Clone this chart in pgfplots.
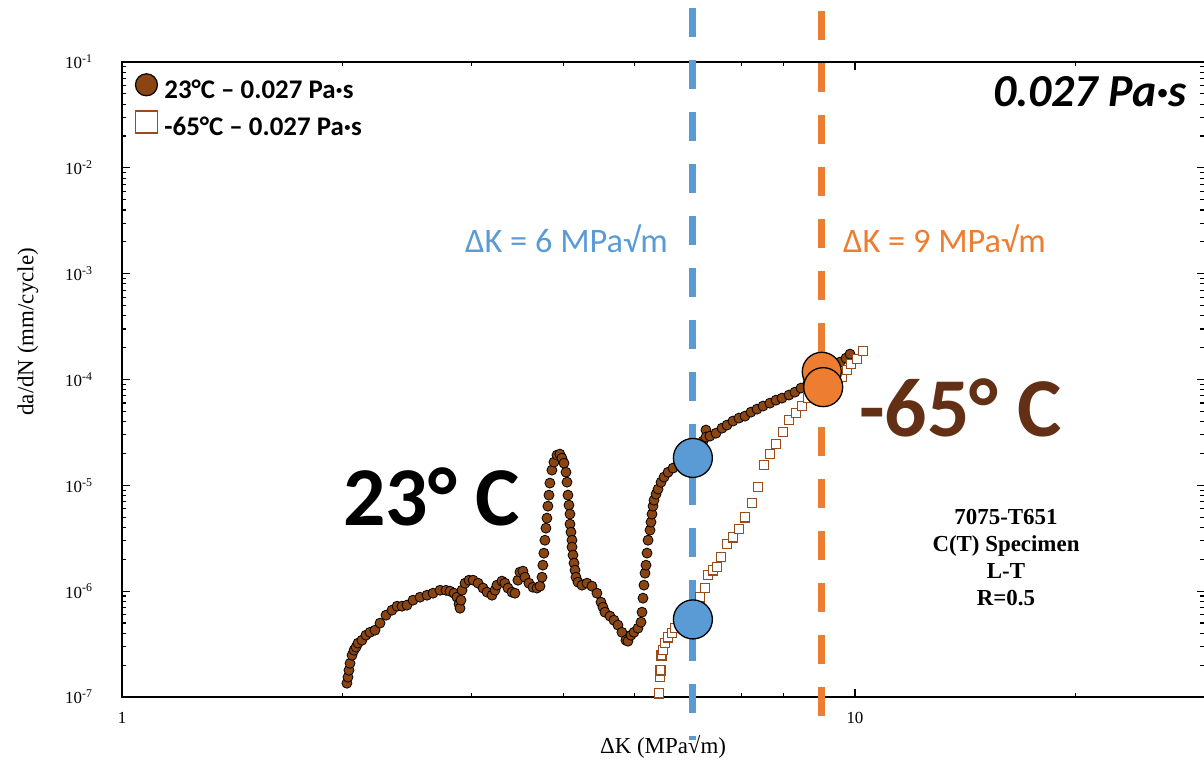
\documentclass[border=0pt]{standalone}
\usepackage{pgfplots}
\pgfplotsset{compat=1.18}
\usepackage{fontspec}
\setmainfont{Liberation Serif}
\newfontfamily\calibri{Carlito}
\definecolor{brownA}{RGB}{139,69,19}
\definecolor{brownSq}{RGB}{153,76,26}
\definecolor{blueL}{RGB}{91,155,213}
\definecolor{orangeL}{RGB}{237,125,49}
\definecolor{darkbrown}{RGB}{99,48,22}
\begin{document}
\begin{tikzpicture}
\path[use as bounding box] (-122bp,-68bp) rectangle (1082bp,697bp);
\begin{axis}[
  at={(0,0)}, anchor=south west,
  scale only axis, width=1082.7bp, height=635bp,
  xmode=log, ymode=log, log basis x=10, log basis y=10,
  xmin=1, xmax=30, ymin=1e-7, ymax=1e-1,
  clip=false,
  xtick={1,10}, xticklabels={1,10},
  minor xtick={2,3,4,5,6,7,8,9,20,30},
  ytick={1e-7,1e-6,1e-5,1e-4,1e-3,1e-2,1e-1},
  yticklabels={10\textsuperscript{-7},10\textsuperscript{-6},10\textsuperscript{-5},10\textsuperscript{-4},10\textsuperscript{-3},10\textsuperscript{-2},10\textsuperscript{-1}},
  minor ytick={2e-7,3e-7,4e-7,5e-7,6e-7,7e-7,8e-7,9e-7,
               2e-6,3e-6,4e-6,5e-6,6e-6,7e-6,8e-6,9e-6,
               2e-5,3e-5,4e-5,5e-5,6e-5,7e-5,8e-5,9e-5,
               2e-4,3e-4,4e-4,5e-4,6e-4,7e-4,8e-4,9e-4,
               2e-3,3e-3,4e-3,5e-3,6e-3,7e-3,8e-3,9e-3,
               2e-2,3e-2,4e-2,5e-2,6e-2,7e-2,8e-2,9e-2},
  tick align=inside,
  major tick length=8bp, minor tick length=4.5bp,
  every tick/.style={black, line width=1.1bp},
  axis line style={line width=1.6bp},
  ticklabel style={font=\fontsize{17}{20}\selectfont},
  yticklabel style={xshift=-26bp},
  xticklabel style={yshift=-12bp},
  xlabel={ΔK (MPa√m)},
  xlabel style={font=\fontsize{23}{26}\selectfont, at={(axis description cs:0.4997,0)}, anchor=center, yshift=-50bp},
  ylabel={da/dN (mm/cycle)},
  ylabel style={font=\fontsize{23}{26}\selectfont, at={(axis description cs:-0.0868,0.575)}, anchor=center},
  legend image code/.code={\path[draw=none, fill=none] (-12bp,-5bp) rectangle (12bp,19bp); \draw[#1] plot coordinates {(0bp,7bp)};},
  legend style={at={(axis description cs:0.0115,0.983)}, anchor=north west,
    draw=none, fill=none, inner sep=0pt, outer sep=0pt,
    font=\calibri\bfseries\fontsize{27}{30}\selectfont,
    row sep=6bp,
    nodes={inner sep=0pt, text height=19bp, text depth=6bp},
    /tikz/every odd column/.append style={column sep=6bp}},
  legend cell align=left,
]
% legend
\addlegendimage{only marks, mark=*, mark size=11bp, mark options={fill=brownA, draw=black, line width=1.2bp}}
\addlegendentry{23°C – 0.027 Pa·s}
\addlegendimage{only marks, mark=square, mark size=11bp, mark options={fill=white, draw=brownSq, line width=1.6bp}}
\addlegendentry{-65°C – 0.027 Pa·s}

% reference lines
\addplot[forget plot, blueL, line width=6.5bp, dash pattern=on 29bp off 23bp] coordinates {(6,0.3239) (6,3.91e-8)};
\addplot[forget plot, orangeL, line width=6.5bp, dash pattern=on 29bp off 23bp] coordinates {(9,0.3034) (9,4.17e-8)};

% 23 C data
\addplot[forget plot, only marks, mark=*, mark size=5bp, mark options={fill=brownA, draw=black, line width=0.8bp}] coordinates {
(2.027,1.35e-7) (2.034,1.54e-7) (2.040,1.79e-7) (2.047,2.08e-7) (2.060,2.48e-7)
(2.073,2.77e-7) (2.086,2.96e-7) (2.099,3.23e-7) (2.125,3.44e-7) (2.152,3.84e-7)
(2.180,4.09e-7) (2.214,4.28e-7) (2.249,4.99e-7) (2.292,5.93e-7) (2.335,6.61e-7)
(2.373,7.21e-7) (2.410,7.21e-7) (2.448,7.38e-7) (2.495,8.22e-7) (2.550,8.77e-7)
(2.607,9.16e-7) (2.657,9.57e-7) (2.716,1.02e-6) (2.767,1.02e-6) (2.802,1.00e-6)
(2.838,9.57e-7) (2.864,8.77e-7) (2.883,7.54e-7) (2.892,6.90e-7) (2.901,8.22e-7)
(2.910,1.02e-6) (2.938,1.19e-6) (2.975,1.27e-6) (3.013,1.27e-6) (3.061,1.19e-6)
(3.109,1.07e-6) (3.148,9.79e-7) (3.198,9.16e-7) (3.228,1.02e-6) (3.248,1.14e-6)
(3.299,1.245e-6) (3.330,1.19e-6) (3.362,1.07e-6) (3.405,9.79e-7) (3.437,9.57e-7)
(3.469,1.27e-6) (3.491,1.514e-6) (3.524,1.546e-6) (3.546,1.355e-6) (3.591,1.19e-6)
(3.637,1.09e-6) (3.683,1.07e-6) (3.718,1.115e-6) (3.741,1.355e-6) (3.752,1.762e-6)
(3.764,2.286e-6) (3.776,3.03e-6) (3.788,3.94e-6) (3.800,4.90e-6) (3.812,6.36e-6)
(3.824,8.08e-6) (3.836,1.05e-5) (3.860,1.393e-5) (3.885,1.656e-5) (3.922,1.93e-5)
(3.958,1.972e-5) (3.983,1.807e-5) (4.009,1.62e-5) (4.034,1.33e-5) (4.047,1.072e-5)
(4.059,8.08e-6) (4.072,6.50e-6) (4.085,5.35e-6) (4.085,4.30e-6) (4.098,3.61e-6)
(4.111,3.03e-6) (4.111,2.61e-6) (4.124,2.19e-6) (4.137,1.84e-6) (4.150,1.58e-6)
(4.163,1.355e-6) (4.189,1.216e-6) (4.242,1.14e-6) (4.309,1.19e-6) (4.377,1.115e-6)
(4.446,9.57e-7) (4.503,7.87e-7) (4.531,7.06e-7) (4.559,6.33e-7) (4.632,5.81e-7)
(4.690,5.32e-7) (4.749,4.78e-7) (4.809,4.09e-7) (4.870,3.44e-7) (4.901,3.37e-7)
(4.948,3.84e-7) (4.994,4.09e-7) (5.058,4.47e-7) (5.106,5.09e-7) (5.122,6.33e-7)
(5.138,8.59e-7) (5.154,1.14e-6) (5.171,1.48e-6) (5.187,1.76e-6) (5.204,2.29e-6)
(5.220,3.03e-6) (5.253,3.77e-6) (5.269,4.49e-6) (5.286,5.35e-6) (5.303,6.36e-6)
(5.319,7.24e-6) (5.353,8.26e-6) (5.387,9.21e-6) (5.438,1.07e-5) (5.490,1.197e-5)
(5.559,1.33e-5) (5.647,1.455e-5) (5.770,1.585e-5) (5.898,1.73e-5) (5.993,1.89e-5)
(6.107,2.25e-5) (6.204,2.62e-5) (6.262,3.33e-5) (6.262,2.86e-5) (6.342,2.92e-5)
(6.463,3.11e-5) (6.586,3.47e-5) (6.690,3.71e-5) (6.817,4.05e-5) (6.946,4.32e-5)
(7.079,4.51e-5) (7.214,4.92e-5) (7.352,5.25e-5) (7.492,5.61e-5) (7.656,5.98e-5)
(7.803,6.38e-5) (7.952,6.67e-5) (8.128,7.13e-5) (8.281,7.60e-5) (8.440,8.30e-5)
(8.628,9.25e-5) (8.792,1.009e-4) (8.960,1.10e-4) (9.159,1.227e-4) (9.333,1.34e-4)
(9.540,1.459e-4) (9.721,1.592e-4) (9.845,1.738e-4)
};

% -65 C data
\addplot[forget plot, only marks, mark=square*, mark size=4.6bp, mark options={fill=white, draw=brownSq, line width=1.4bp}] coordinates {
(5.404,1.086e-7) (5.420,1.54e-7) (5.430,1.79e-7) (5.445,2.48e-7) (5.472,2.77e-7)
(5.506,3.23e-7) (5.559,3.67e-7) (5.628,4.01e-7) (5.682,4.47e-7) (5.825,5.56e-7)
(5.975,7.06e-7) (6.146,8.77e-7) (6.243,1.07e-6) (6.302,1.416e-6) (6.402,1.578e-6)
(6.482,1.686e-6) (6.564,2.096e-6) (6.690,2.78e-6) (6.817,3.236e-6) (6.946,3.855e-6)
(7.079,5.0e-6) (7.237,6.79e-6) (7.375,9.62e-6) (7.516,1.552e-5) (7.656,1.972e-5)
(7.803,2.449e-5) (7.977,3.184e-5) (8.128,4.13e-5) (8.308,4.808e-5) (8.467,5.61e-5)
(8.628,6.67e-5) (8.819,7.60e-5) (9.016,7.94e-5) (9.216,8.85e-5) (9.392,9.66e-5)
(9.601,1.054e-4) (9.752,1.227e-4) (9.875,1.40e-4) (10.06,1.559e-4) (10.25,1.854e-4)
};

% highlighted points
\addplot[forget plot, only marks, mark=*, mark size=19.5bp, mark options={fill=blueL, draw=black, line width=1.3bp}] coordinates {(6.01,1.815e-5) (6.01,5.41e-7)};
\addplot[forget plot, only marks, mark=*, mark size=19.5bp, mark options={fill=orangeL, draw=black, line width=1.3bp}] coordinates {(9.01,1.183e-4) (9.05,8.47e-5)};
\end{axis}

% annotations (positions in bp relative to axis origin)
\node[anchor=base west, inner sep=0pt, font=\calibri\bfseries\fontsize{84}{90}\selectfont] at (221bp,171bp) {23° C};
\node[anchor=base west, inner sep=0pt, text=darkbrown, font=\calibri\bfseries\fontsize{84}{90}\selectfont] at (737bp,260bp) {-65° C};
\node[anchor=base west, inner sep=0pt, text=blueL, font=\calibri\fontsize{34.5}{38}\selectfont] at (343bp,444bp) {ΔK = 6 MPa√m};
\node[anchor=base west, inner sep=0pt, text=orangeL, font=\calibri\fontsize{34.5}{38}\selectfont] at (721bp,444bp) {ΔK = 9 MPa√m};
\node[anchor=base east, inner sep=0pt, font=\calibri\bfseries\itshape\fontsize{46}{50}\selectfont] at (1065bp,590bp) {0.027 Pa·s};
\begin{scope}[every node/.style={anchor=base, inner sep=0pt, font=\bfseries\fontsize{23}{26}\selectfont}]
\node at (884bp,172bp) {7075-T651};
\node at (884bp,145bp) {C(T) Specimen};
\node at (884bp,118bp) {L-T};
\node at (884bp,91bp) {R=0.5};
\end{scope}
\end{tikzpicture}
\end{document}
